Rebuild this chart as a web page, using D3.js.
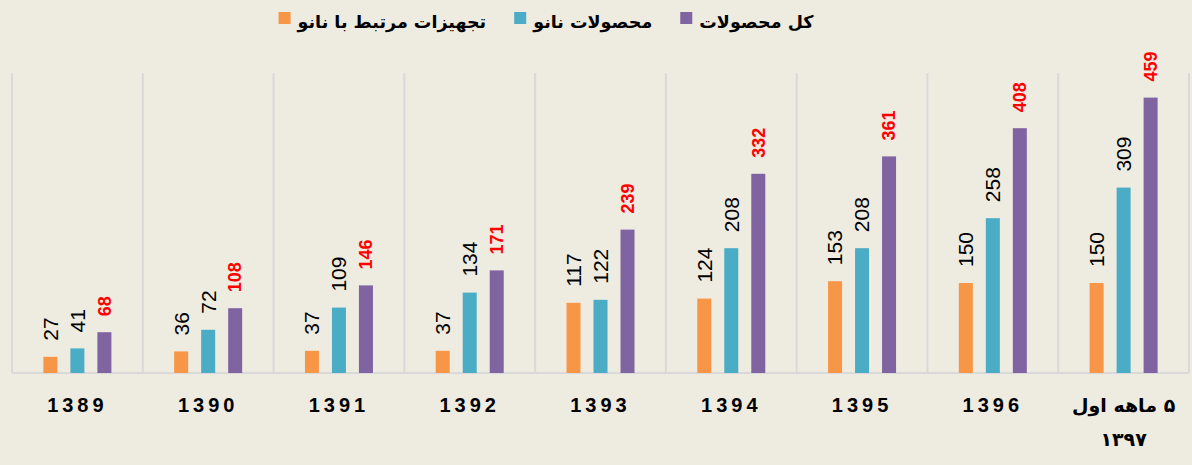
<!DOCTYPE html>
<html>
<head>
<meta charset="utf-8">
<script src="https://cdn.jsdelivr.net/npm/d3@7"></script>
<style>
  body { margin: 0; background: #EEEBE0; }
  svg { display: block; }
</style>
</head>
<body>
<div id="chart"></div>
<script>
var years    = ['1389', '1390', '1391', '1392', '1393', '1394', '1395', '1396', '۵ ماهه اول\n۱۳۹۷']
var equip    = [27, 36, 37, 37, 117, 124, 153, 150, 150]
var nano     = [41, 72, 109, 134, 122, 208, 208, 258, 309]
var total    = [68, 108, 146, 171, 239, 332, 361, 408, 459]
var seriesNames = ['تجهیزات مرتبط با نانو', 'محصولات نانو', 'کل محصولات']
var colors      = ['#F79646', '#4BACC6', '#8064A2']

var W = 1192, H = 465
var margin = {top: 73, right: 3, bottom: 92, left: 12}
var width = W - margin.left - margin.right
var height = H - margin.top - margin.bottom

var svg = d3.select('#chart')
  .append('svg')
    .attr('width', W)
    .attr('height', H)

var g = svg.append('g')
  .attr('transform', 'translate(' + margin.left + ',' + margin.top + ')')

var x = d3.scaleBand().domain(years).range([0, width])
var y = d3.scaleLinear().domain([0, 500]).range([height, 0])
var inner = d3.scaleBand().domain([0, 1, 2]).range([x.bandwidth() / 2 - 40.5, x.bandwidth() / 2 + 40.5]).paddingInner(13 / 27).paddingOuter(6.5 / 27)

// category separators
var bounds = years.map(d => x(d)).concat([width])
g.selectAll('line.sep')
  .data(bounds)
  .enter().append('line')
    .attr('x1', d => d).attr('x2', d => d)
    .attr('y1', 0).attr('y2', height)
    .attr('stroke', '#D9D9D9')
    .attr('stroke-width', 2)

g.append('line')
  .attr('x1', 0).attr('x2', width)
  .attr('y1', height).attr('y2', height)
  .attr('stroke', '#D9D9D9')
  .attr('stroke-width', 2)

var all = [equip, nano, total]
for (var s = 0; s < 3; ++s) {
  var rows = years.map((yr, i) => ({yr: yr, v: all[s][i]}))
  var grp = g.append('g')
  grp.selectAll('rect')
    .data(rows)
    .enter().append('rect')
      .attr('x', d => x(d.yr) + inner(s))
      .attr('width', inner.bandwidth())
      .attr('y', d => y(d.v))
      .attr('height', d => height - y(d.v))
      .attr('fill', colors[s])

  grp.selectAll('text')
    .data(rows)
    .enter().append('text')
      .attr('transform', d => 'translate(' + (x(d.yr) + inner(s) + inner.bandwidth() / 2) + ',' + (y(d.v) - 16) + ') rotate(-90)')
      .attr('dy', '0.35em')
      .attr('text-anchor', 'start')
      .attr('font-family', 'Liberation Sans, Arial, sans-serif')
      .attr('font-size', s == 2 ? 18 : 21)
      .attr('font-weight', s == 2 ? 'bold' : 'normal')
      .attr('fill', s == 2 ? '#FF0000' : '#000')
      .text(d => d.v)
}

// x labels
var xl = g.append('g')
xl.selectAll('text')
  .data(years)
  .enter().append('text')
    .attr('x', d => x(d) + x.bandwidth() / 2)
    .attr('y', height + 39)
    .attr('text-anchor', 'middle')
    .attr('direction', d => d.indexOf('\n') < 0 ? 'ltr' : 'rtl')
    .attr('font-family', d => d.indexOf('\n') < 0 ? 'Liberation Sans, Arial, sans-serif' : 'DejaVu Sans, sans-serif')
    .attr('font-weight', 'bold')
    .attr('font-size', d => d.indexOf('\n') < 0 ? 20 : 19)
    .attr('letter-spacing', d => d.indexOf('\n') < 0 ? 4 : 0)
    .each(function(d) {
      var parts = d.split('\n')
      var t = d3.select(this)
      parts.forEach((p, k) => {
        t.append('tspan')
          .attr('x', x(d) + x.bandwidth() / 2)
          .attr('dy', k == 0 ? 0 : 34)
          .text(p)
      })
    })

// legend, laid out right to left then centred
var legend = svg.append('g')
var cursor = 0
for (var s = 2; s >= 0; --s) {
  var t = legend.append('text')
    .attr('y', 28)
    .attr('direction', 'rtl')
    .attr('text-anchor', 'start')
    .attr('font-family', 'DejaVu Sans, sans-serif')
    .attr('font-weight', 'bold')
    .attr('font-size', 17.5)
    .attr('fill', '#000')
    .text(seriesNames[s])
  var w = t.node().getComputedTextLength()
  t.attr('x', cursor)
  legend.append('rect')
    .attr('x', cursor - w - 7 - 12)
    .attr('y', 12)
    .attr('width', 12)
    .attr('height', 12)
    .attr('fill', colors[s])
  var leftEdge = cursor - w - 7 - 12
  cursor = leftEdge - 28
}
legend.attr('transform', 'translate(' + (546 - leftEdge / 2) + ',0)')
</script>
</body>
</html>
